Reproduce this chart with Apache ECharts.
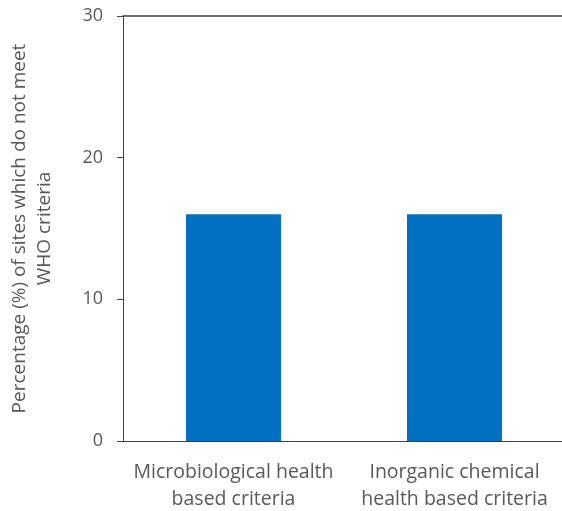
<!DOCTYPE html>
<html>
<head>
<meta charset="utf-8">
<script src="https://cdn.jsdelivr.net/npm/echarts@6/dist/echarts.min.js"></script>
<style>html,body{margin:0;padding:0;background:#fff;}#c{width:562px;height:511px;}</style>
</head>
<body>
<div id="c"></div>
<script>
const categories = ['Microbiological health\nbased criteria', 'Inorganic chemical\nhealth based criteria'];
const values = [16, 16];
const yTicks = [0, 10, 20, 30];
const yTitle = 'Percentage (%) of sites which do not meet\nWHO criteria';

const font = '"Open Sans", Lato, sans-serif';
const chart = echarts.init(document.getElementById('c'));
chart.setOption({
  animation: false,
  grid: { left: 123, right: -3, top: 16, bottom: 70, containLabel: false, outerBoundsMode: 'none' },
  xAxis: [{
    type: 'category',
    data: categories,
    axisLine: { lineStyle: { color: '#404040', width: 1 } },
    axisTick: { show: false },
    axisLabel: { color: '#595959', fontSize: 19.5, fontFamily: font, lineHeight: 27, margin: 18, interval: 0 }
  }, {
    type: 'category',
    position: 'top',
    data: categories,
    axisLine: { lineStyle: { color: '#404040', width: 1.5 } },
    axisTick: { show: false },
    axisLabel: { show: false }
  }],
  yAxis: {
    type: 'value',
    min: yTicks[0],
    max: yTicks[yTicks.length - 1],
    interval: 10,
    axisLine: { show: true, lineStyle: { color: '#404040', width: 1 } },
    axisTick: { show: true, length: 6, lineStyle: { color: '#404040' } },
    splitLine: { show: false },
    axisLabel: { color: '#595959', fontSize: 18, fontFamily: font, margin: 20 },
    name: yTitle,
    nameLocation: 'middle',
    nameGap: 66,
    nameTextStyle: { color: '#595959', fontSize: 19, fontFamily: font, lineHeight: 25 }
  },
  series: [{
    type: 'bar',
    data: values,
    barWidth: '43%',
    itemStyle: { color: '#0070C0' }
  }]
});
</script>
</body>
</html>
